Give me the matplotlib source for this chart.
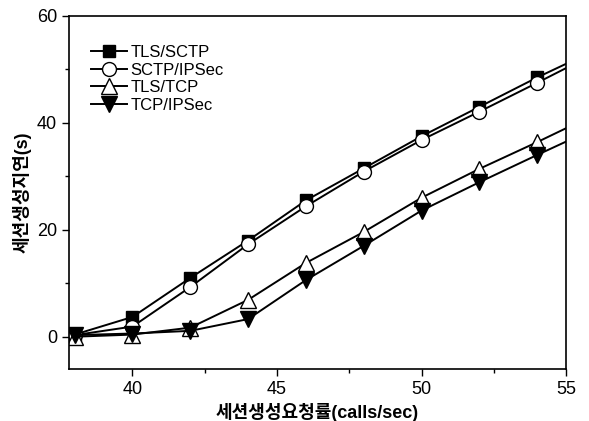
import numpy as np
import matplotlib.pyplot as plt
from matplotlib.ticker import MultipleLocator

plt.rcParams['font.family'] = ['Liberation Sans', 'Noto Sans CJK KR', 'DejaVu Sans']

# session setup request rate (calls/sec); last point lies past the axis edge
rate = [38, 40, 42, 44, 46, 48, 50, 52, 54, 56]

tls_sctp = [0.4, 3.7, 11.0, 18.0, 25.5, 31.5, 37.5, 43.0, 48.5, 53.6]
sctp_ipsec = [0.3, 1.9, 9.3, 17.3, 24.4, 30.9, 36.8, 42.1, 47.5, 53.0]
tls_tcp = [0.0, 0.4, 1.7, 6.9, 13.8, 19.6, 26.0, 31.4, 36.4, 41.6]
tcp_ipsec = [0.3, 0.6, 1.1, 3.3, 10.6, 17.0, 23.6, 28.9, 34.0, 39.0]

fig = plt.figure(figsize=(5.89, 4.21), dpi=100)
ax = fig.add_axes([0.117, 0.124, 0.844, 0.838])

ms = 10
ax.plot(rate, tls_sctp, '-', color='black', lw=1.4, marker='s', ms=ms - 1,
        mfc='black', mec='black', label='TLS/SCTP')
ax.plot(rate, sctp_ipsec, '-', color='black', lw=1.4, marker='o', ms=ms,
        mfc='white', mec='black', mew=1.0, label='SCTP/IPSec')
ax.plot(rate, tls_tcp, '-', color='black', lw=1.4, marker='^', ms=ms + 1,
        mfc='white', mec='black', mew=1.0, label='TLS/TCP')
ax.plot(rate, tcp_ipsec, '-', color='black', lw=1.4, marker='v', ms=ms + 1,
        mfc='black', mec='black', label='TCP/IPSec')

ax.set_xlim(37.8, 55)
ax.set_ylim(-6, 60)
ax.xaxis.set_major_locator(MultipleLocator(5))
ax.xaxis.set_minor_locator(MultipleLocator(2.5))
ax.yaxis.set_major_locator(MultipleLocator(20))
ax.yaxis.set_minor_locator(MultipleLocator(10))
ax.tick_params(which='major', direction='out', length=5, width=1, labelsize=13)
ax.tick_params(which='minor', direction='out', length=3, width=1)
for s in ax.spines.values():
    s.set_linewidth(1.2)

ax.set_xlabel('세션생성요청률(calls/sec)', fontsize=13, fontweight='bold', labelpad=4)
ax.set_ylabel('세션생성지연(s)', fontsize=13, fontweight='bold', labelpad=4)

ax.legend(loc='upper left', bbox_to_anchor=(0.02, 0.95), frameon=False,
          fontsize=12, handlelength=2.2, handletextpad=0.2, labelspacing=0.15,
          borderaxespad=0.3)

fig.savefig('out.png', dpi=100)
